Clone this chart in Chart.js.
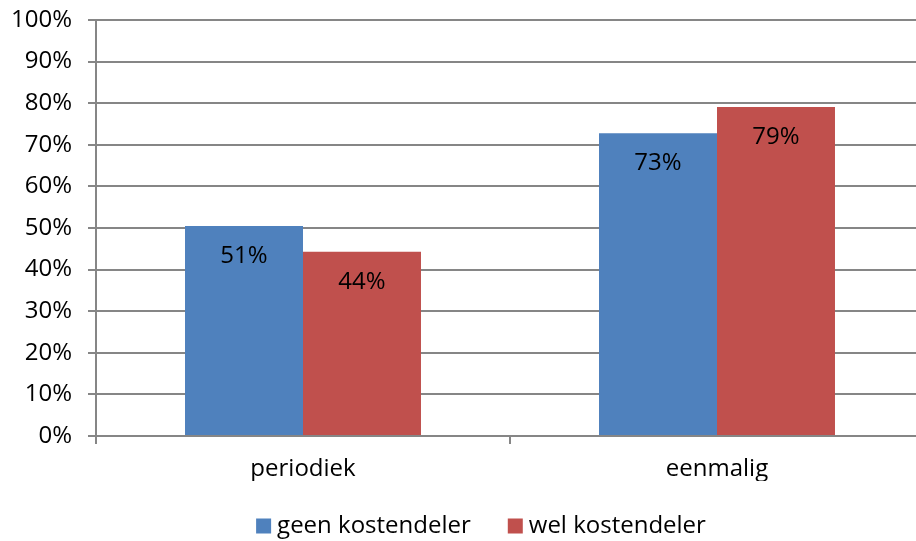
<!DOCTYPE html>
<html>
<head>
<meta charset="utf-8">
<script src="https://cdn.jsdelivr.net/npm/chart.js@4/dist/chart.umd.min.js"></script>
<style>
  html, body { margin: 0; padding: 0; background: #fff; overflow: hidden; }
  #outer { width: 916px; height: 541px; overflow: hidden; }
  /* plot runs a little past the right edge, as in the original */
  #wrap { width: 924px; height: 541px; }
</style>
</head>
<body>
<div id="outer"><div id="wrap"><canvas id="myChart"></canvas></div></div>
<script>
'use strict';

// data
var categories = ['periodiek', 'eenmalig'];
var seriesNames = ['geen kostendeler', 'wel kostendeler'];
var geenKostendeler = [50.5, 72.8];
var welKostendeler = [44.3, 79.1];
var shownLabels = [['51%', '73%'], ['44%', '79%']];
var yTicks = [0, 10, 20, 30, 40, 50, 60, 70, 80, 90, 100];

var colors = ['#4F81BD', '#C0504D'];
var gridColor = '#868686';
var fontFamily = '"Open Sans", "Noto Sans", sans-serif';
var fontSize = 24;

// labels inside the bars, just below the top
var barLabels = {
  id: 'barLabels',
  afterDatasetsDraw: function (chart) {
    var ctx = chart.ctx;
    ctx.save();
    ctx.fillStyle = '#000';
    ctx.font = fontSize + 'px ' + fontFamily;
    ctx.textAlign = 'center';
    ctx.textBaseline = 'middle';
    chart.data.datasets.forEach(function (ds, i) {
      chart.getDatasetMeta(i).data.forEach(function (bar, j) {
        ctx.fillText(shownLabels[i][j], bar.x, bar.y + 30);
      });
    });
    ctx.restore();
  }
};

// legend drawn by hand so the spacing matches excel
var bottomLegend = {
  id: 'bottomLegend',
  afterDraw: function (chart) {
    var ctx = chart.ctx;
    ctx.save();
    ctx.font = fontSize + 'px ' + fontFamily;
    ctx.textBaseline = 'middle';
    var box = 15, gap = 6, itemGap = 37, y = 526;
    var total = 0;
    chart.data.datasets.forEach(function (ds, i) {
      total += box + gap + ctx.measureText(ds.label).width;
      if (i > 0) total += itemGap;
    });
    var x = 481 - total / 2;
    chart.data.datasets.forEach(function (ds) {
      ctx.fillStyle = ds.backgroundColor;
      ctx.fillRect(x, y - box / 2, box, box);
      x += box + gap;
      ctx.fillStyle = '#000';
      ctx.fillText(ds.label, x, y);
      x += ctx.measureText(ds.label).width + itemGap;
    });
    ctx.restore();
  }
};

var ctx = document.getElementById('myChart').getContext('2d');
var chart = new Chart(ctx, {
  type: 'bar',
  data: {
    labels: categories,
    datasets: [{
      label: seriesNames[0],
      data: geenKostendeler,
      backgroundColor: colors[0]
    }, {
      label: seriesNames[1],
      data: welKostendeler,
      backgroundColor: colors[1]
    }]
  },
  options: {
    responsive: true,
    maintainAspectRatio: false,
    animation: false,
    layout: { padding: { top: 20, right: 0, left: 0, bottom: 60 } },
    datasets: {
      bar: { categoryPercentage: 0.57, barPercentage: 1.0 }
    },
    plugins: {
      legend: { display: false },
      tooltip: { enabled: false },
      title: { display: false }
    },
    scales: {
      y: {
        min: 0,
        max: 100,
        afterFit: function (scale) {
          scale.width = 96;
          scale.paddingTop = 0;
          scale.paddingBottom = 0;
        },
        afterBuildTicks: function (scale) {
          scale.ticks = yTicks.map(function (v) { return { value: v }; });
        },
        ticks: {
          color: '#000',
          padding: 16,
          font: { family: fontFamily, size: fontSize },
          callback: function (v) { return v + '%'; }
        },
        grid: { color: gridColor, lineWidth: 2, tickLength: 8 },
        border: { color: gridColor, width: 2 }
      },
      x: {
        afterFit: function (scale) { scale.height = 45; },
        ticks: {
          color: '#000',
          padding: 11,
          font: { family: fontFamily, size: fontSize }
        },
        grid: {
          offset: true,
          drawOnChartArea: false,
          color: gridColor,
          lineWidth: 2,
          tickLength: 8
        },
        border: { color: gridColor, width: 2 }
      }
    }
  },
  plugins: [barLabels, bottomLegend]
});
</script>
</body>
</html>
